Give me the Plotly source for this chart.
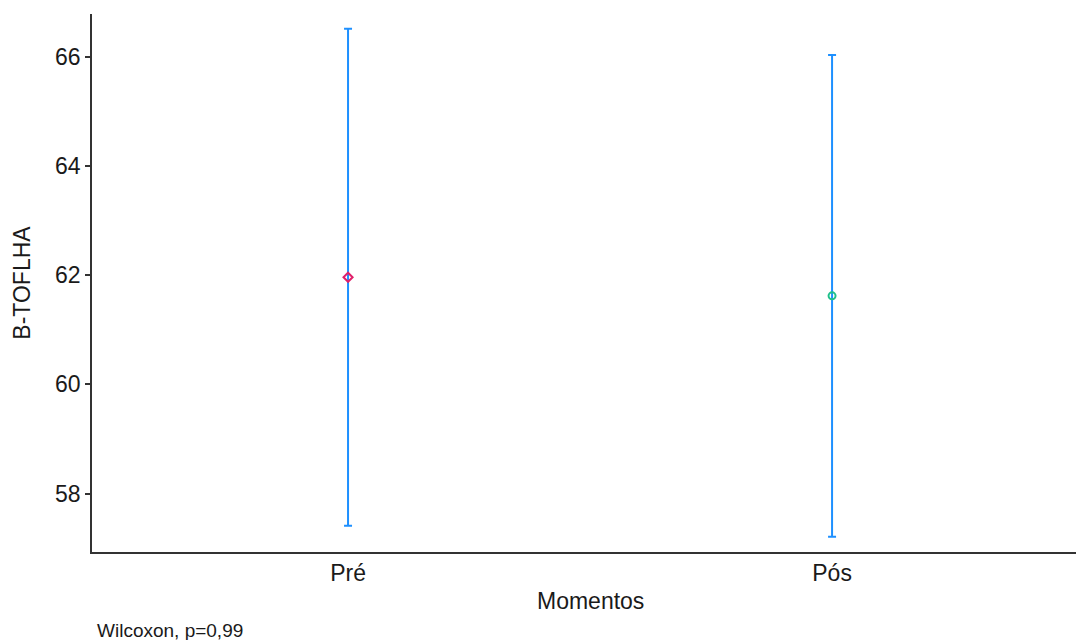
import plotly.graph_objects as go

categories = ["Pré", "Pós"]
means = [61.96, 61.62]
upper = [66.51, 66.03]
lower = [57.41, 57.21]
marker_colors = ["#e0206a", "#1fc08a"]
marker_symbols = ["diamond-open", "circle-open"]
y_ticks = [58, 60, 62, 64, 66]

fig = go.Figure()
for i, cat in enumerate(categories):
    fig.add_trace(go.Scatter(
        x=[cat], y=[means[i]], mode="markers",
        marker=dict(symbol=marker_symbols[i], color=marker_colors[i], size=7,
                    line=dict(width=2, color=marker_colors[i])),
        error_y=dict(type="data", symmetric=False,
                     array=[upper[i] - means[i]], arrayminus=[means[i] - lower[i]],
                     color="#1e90ff", thickness=2, width=4),
        showlegend=False,
    ))

fig.update_layout(
    width=1076, height=640,
    margin=dict(l=92, r=0, t=14, b=88),
    plot_bgcolor="white", paper_bgcolor="white",
    font=dict(family="Liberation Sans, Arial, sans-serif", color="#1a1a1a"),
    xaxis=dict(
        type="category", categoryorder="array", categoryarray=categories,
        range=[-0.529, 1.504],
        showline=True, linecolor="#333", linewidth=1.5, showgrid=False,
        ticks="", tickfont=dict(size=23, color="#1a1a1a"),
        zeroline=False,
    ),
    yaxis=dict(
        range=[56.93, 66.78],
        tickvals=y_ticks, ticktext=[str(v) for v in y_ticks],
        showline=True, linecolor="#333", linewidth=1.5, showgrid=False,
        ticks="outside", ticklen=5, tickcolor="#333", tickwidth=1.5,
        tickfont=dict(size=23, color="#1a1a1a"),
        title=dict(text="B-TOFLHA", font=dict(size=23, color="#1a1a1a"), standoff=18),
        zeroline=False,
    ),
    annotations=[
        dict(text="Momentos", xref="paper", yref="paper",
             x=(590 - 92) / 984, y=-(601 - 552) / 538, xanchor="center", yanchor="middle",
             showarrow=False, font=dict(size=23, color="#1a1a1a")),
        dict(text="Wilcoxon, p=0,99", xref="paper", yref="paper",
             x=0.003, y=-(630 - 552) / 538, xanchor="left", yanchor="middle",
             showarrow=False, font=dict(size=19, color="#1a1a1a")),
    ],
)

fig.write_html("out.html", config={"displayModeBar": False},
               post_script="document.body.style.margin='0';document.body.style.padding='0';")
